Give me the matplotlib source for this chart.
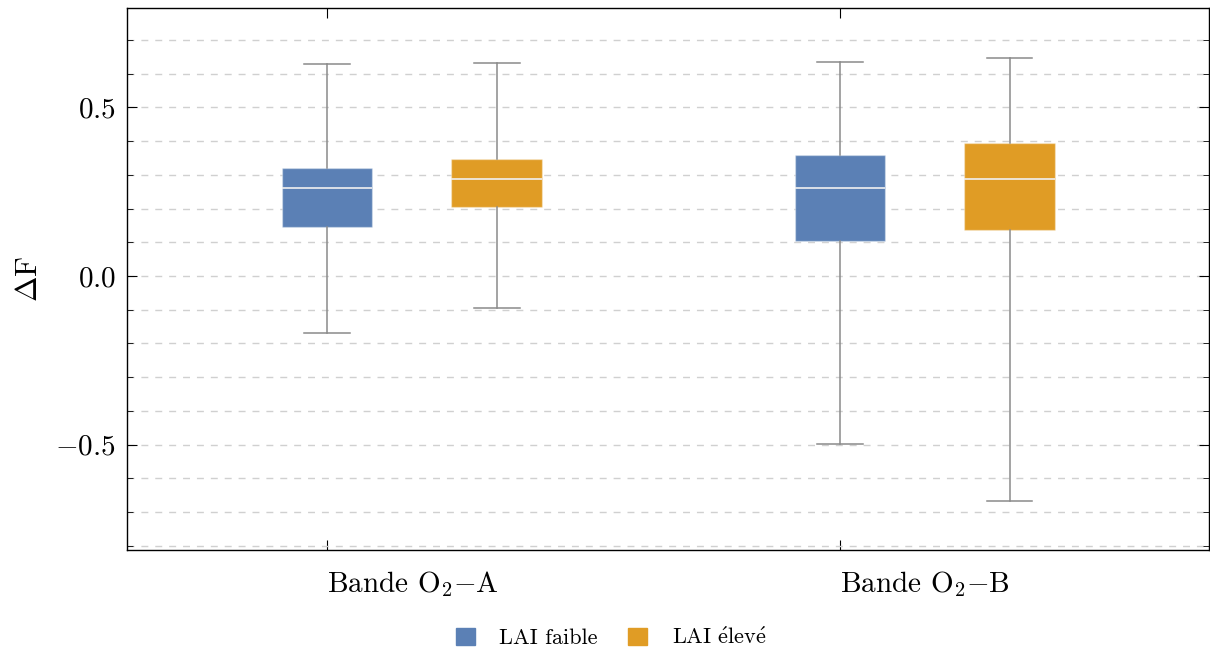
import matplotlib
matplotlib.use("Agg")
import matplotlib.pyplot as plt
from matplotlib.patches import Patch
from matplotlib.ticker import MultipleLocator

plt.rcParams['font.family'] = 'serif'
plt.rcParams['font.serif'] = ['cmr10']
plt.rcParams['mathtext.fontset'] = 'cm'
plt.rcParams['axes.formatter.use_mathtext'] = True

categories = [r'Bande O$_2$$-$A', r'Bande O$_2$$-$B']
series = [r'LAI faible', r'LAI $\mathrm{\acute{e}}$lev$\mathrm{\acute{e}}$']
colors = ['#5b80b5', '#e09c25']

# per series: [group A, group B]
whislo = [[-0.169, -0.497], [-0.095, -0.666]]
q1 = [[0.145, 0.103], [0.204, 0.135]]
med = [[0.260, 0.261], [0.287, 0.287]]
q3 = [[0.320, 0.359], [0.346, 0.393]]
whishi = [[0.627, 0.633], [0.630, 0.645]]

fig = plt.figure(figsize=(12.1, 6.52), dpi=100)
ax = fig.add_axes([0.105, 0.157, 0.894, 0.83])

offset = 0.331
width = 0.177
for s in range(2):
    stats = []
    for g in range(2):
        stats.append(dict(med=med[s][g], q1=q1[s][g], q3=q3[s][g],
                          whislo=whislo[s][g], whishi=whishi[s][g], fliers=[]))
    pos = [g + s * offset for g in range(2)]
    ax.bxp(stats, positions=pos, widths=width, patch_artist=True, showfliers=False,
           boxprops=dict(facecolor=colors[s], edgecolor=colors[s], linewidth=1),
           medianprops=dict(color='#f0f0f0', linewidth=1.2),
           whiskerprops=dict(color='#8a8a8a', linewidth=1.1),
           capprops=dict(color='#8a8a8a', linewidth=1.1),
           capwidths=width / 2, manage_ticks=False, zorder=3)
    for b in ax.patches[-2:]:
        b.set_edgecolor((1, 1, 1, 0.35))

ax.set_xlim(-0.39, 1.719)
ax.set_ylim(-0.811, 0.793)
ax.set_xticks([0, 1])
ax.set_xticklabels(categories, ha='left', fontsize=21)
ax.yaxis.set_major_locator(MultipleLocator(0.5))
ax.yaxis.set_minor_locator(MultipleLocator(0.1))
ax.tick_params(axis='y', which='both', direction='in', left=True, right=True, labelsize=21)
ax.tick_params(axis='y', which='major', length=7, pad=8)
ax.tick_params(axis='y', which='minor', length=4)
ax.tick_params(axis='x', which='both', direction='in', top=True, bottom=True, length=7, pad=14)
ax.tick_params(axis='x', which='minor', top=False, bottom=False)
ax.grid(True, axis='y', which='both', linestyle=(0, (5, 5)), color='#d0d0d0', linewidth=1, zorder=0)
ax.set_axisbelow(True)
ax.set_ylabel(r'$\Delta\mathrm{F}$', fontsize=22, labelpad=9)
for sp in ax.spines.values():
    sp.set_linewidth(1.0)

handles = [Patch(facecolor=c, edgecolor=c) for c in colors]
fig.legend(handles, series, loc='center', bbox_to_anchor=(0.505, 0.022), ncol=2, frameon=False,
           fontsize=16, handlelength=0.86, handleheight=0.86, handletextpad=1.1, columnspacing=1.36)

fig.savefig('out.png', dpi=100)
